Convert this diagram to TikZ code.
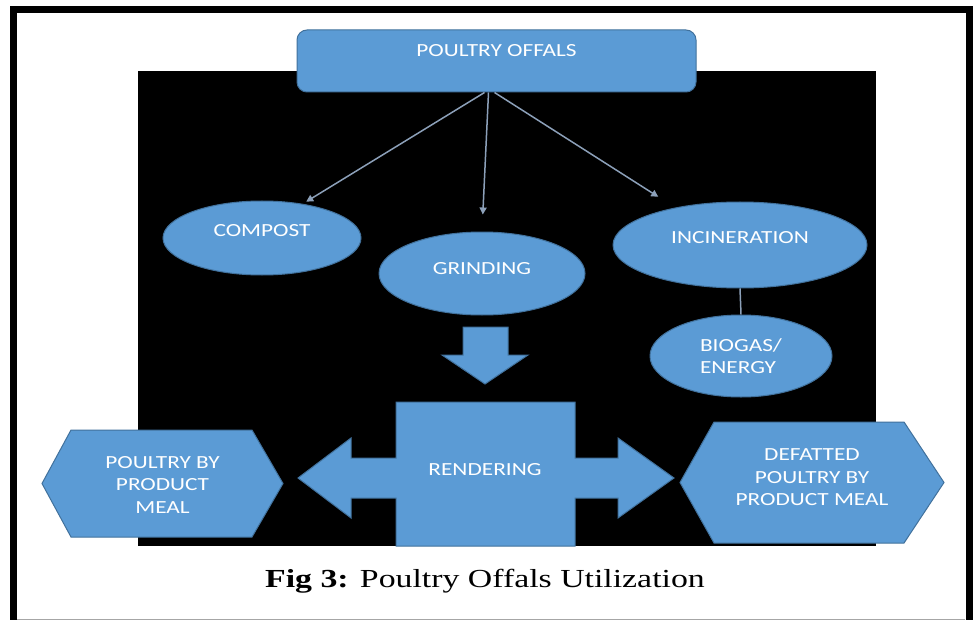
\documentclass[tikz,border=0pt]{standalone}
\usepackage{fontspec}
\setmainfont{Carlito}
\newfontfamily\boxfont[FakeStretch=1.26]{Carlito}
\newfontfamily\capfont[FakeStretch=1.3]{Liberation Serif}
\usetikzlibrary{arrows.meta,shapes.geometric}
\definecolor{officeblue}{RGB}{91,155,213}
\definecolor{officeline}{RGB}{65,113,156}
\definecolor{linkgray}{RGB}{140,160,185}
\begin{document}
\begin{tikzpicture}[x=1pt,y=-1pt,
  box/.style={fill=officeblue,draw=officeline,line width=1pt},
  label/.style={text=white,inner sep=0pt,align=center,font=\boxfont\fontsize{18.5}{22.5}\selectfont},
  oval/.style={box,label,ellipse},
  link/.style={draw=linkgray,line width=1.5pt,-{Triangle[length=7pt,width=7pt]}}]
\useasboundingbox (0,0) rectangle (973,620);
\fill[white] (0,0) rectangle (973,620);
\draw[line width=7pt] (13.5,9.5) rectangle (969,626);
\draw[gray!70,line width=1pt] (17,619.5) -- (965,619.5);
\fill[black] (138,71) rectangle (876,546);
\node[box,label,rounded corners=10pt,minimum width=399pt,minimum height=62pt,text depth=20pt] (offals) at (496.5,61) {POULTRY OFFALS};
\node[oval,minimum width=198pt,minimum height=74pt,text depth=16pt] (compost) at (262,238) {COMPOST};
\node[oval,minimum width=206pt,minimum height=83pt,text depth=10pt] (grinding) at (482,273.5) {GRINDING};
\node[oval,minimum width=254pt,minimum height=86pt,text depth=16pt] (incin) at (740,245) {INCINERATION};
\node[oval,align=left,minimum width=182pt,minimum height=82pt] (biogas) at (741,356) {BIOGAS/\\ENERGY};
\draw[link,shorten >=4pt] ([xshift=-12pt]offals.south) -- (compost.40);
\draw[link,shorten >=17pt] ([xshift=-8pt]offals.south) -- (grinding.north);
\draw[link,shorten >=20pt] ([xshift=-2pt]offals.south) -- (incin.150);
\draw[draw=linkgray,line width=1.5pt] (incin.south) -- (biogas.north);
\draw[box] (463,327) -- (508,327) -- (508,355) -- (528,355) -- (485,384) -- (442,355) -- (463,355) -- cycle;
\draw[box] (298,478) -- (351,438) -- (351,458) -- (396,458) -- (396,402) -- (575,402) -- (575,458) -- (618,458) -- (618,438) -- (674,478)
  -- (618,518) -- (618,498) -- (575,498) -- (575,546) -- (396,546) -- (396,498) -- (351,498) -- (351,518) -- cycle;
\node[label] (rendering) at (485,470) {RENDERING};
\draw[box] (42,483.5) -- (71,430) -- (252,430) -- (283,483.5) -- (252,537) -- (71,537) -- cycle;
\node[label] (meal) at (162.5,484.5) {POULTRY BY\\PRODUCT\\MEAL};
\draw[box] (680,482.5) -- (714,422) -- (904,422) -- (944,482.5) -- (904,543) -- (714,543) -- cycle;
\node[label] (defatted) at (812,477.5) {DEFATTED\\POULTRY BY\\PRODUCT MEAL};
\node[anchor=base,font=\capfont\fontsize{26}{30}\selectfont] (caption) at (485,587) {\textbf{Fig 3:} Poultry Offals Utilization};
\end{tikzpicture}
\end{document}
